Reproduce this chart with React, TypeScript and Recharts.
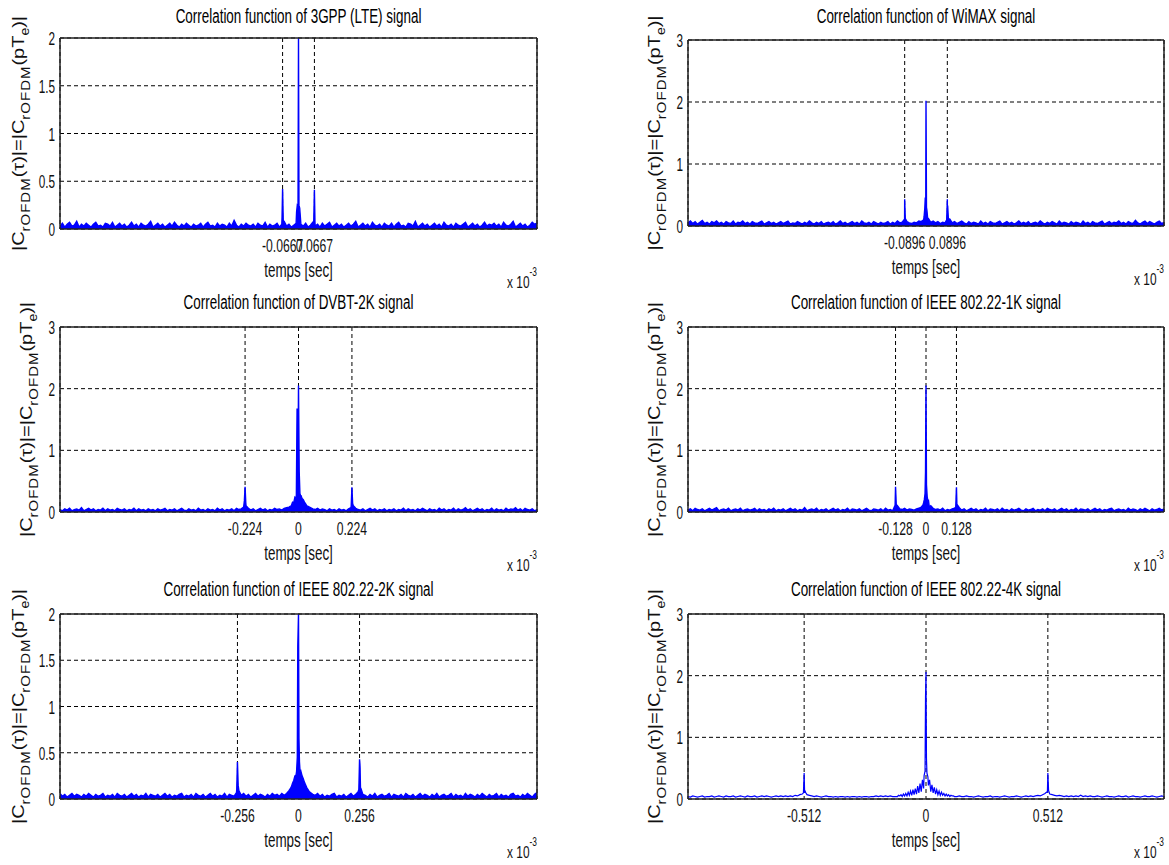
import React from "react";
import {
  ComposedChart,
  Area,
  Line,
  XAxis,
  YAxis,
  CartesianGrid,
  ReferenceLine,
} from "recharts";

// sample grid of the correlation (x 10^-3 s)
const GRID_START = -1;
const GRID_STEP = 0.01;

// ---- 3GPP (LTE) ----
const lteCoarse = [
  .03,.06,.02,.05,.07,.03,.04,.08,.02,.05,.03,.06,.04,.02,.05,.07,.03,.04,.02,.06,
  .05,.03,.07,.02,.04,.06,.03,.05,.02,.04,.07,.03,.05,.02,.06,.04,.03,.05,.08,.02,
  .04,.06,.03,.05,.02,.04,.06,.03,.07,.04,.02,.05,.03,.06,.04,.02,.05,.03,.04,.06,
  .02,.05,.07,.03,.04,.02,.06,.03,.05,.04,.02,.06,.03,.09,.04,.02,.05,.03,.06,.04,
  .03,.05,.02,.06,.04,.03,.07,.02,.05,.03,.04,.06,.02,.05,.08,.03,.05,.02,.04,.06,
  2.0,
  .05,.03,.06,.02,.04,.07,.03,.05,.02,.06,.03,.05,.07,.02,.04,.06,.03,.05,.02,.04,
  .06,.03,.05,.08,.02,.04,.06,.03,.05,.02,.07,.04,.03,.05,.02,.06,.04,.03,.06,.02,
  .05,.07,.03,.04,.02,.06,.05,.03,.08,.02,.04,.06,.03,.05,.02,.04,.06,.03,.05,.02,
  .07,.04,.03,.05,.02,.06,.04,.03,.05,.07,.02,.04,.06,.03,.05,.02,.04,.07,.03,.05,
  .04,.06,.03,.05,.02,.07,.04,.03,.05,.08,.02,.04,.06,.03,.05,.02,.04,.07,.05,.06,
];
const lteFineT = [-0.069, -0.0667, -0.064, -0.008, -0.005, -0.002, 0.002, 0.005, 0.008, 0.064, 0.0667, 0.069];
const lteFineV = [.12, .42, .09, .18, .25, .24, .25, .22, .12, .08, .41, .07];

// ---- WiMAX ----
const wimaxCoarse = [
  .05,.08,.04,.07,.03,.06,.09,.04,.06,.03,.07,.05,.08,.04,.06,.03,.07,.05,.04,.08,
  .03,.06,.05,.08,.04,.06,.03,.07,.05,.04,.06,.08,.03,.05,.07,.04,.06,.03,.05,.07,
  .04,.06,.08,.03,.05,.04,.07,.05,.03,.06,.04,.08,.05,.03,.06,.04,.07,.03,.05,.06,
  .04,.07,.03,.05,.08,.04,.06,.03,.05,.07,.04,.06,.03,.08,.05,.04,.06,.03,.07,.05,
  .03,.06,.04,.05,.07,.03,.06,.04,.08,.05,.06,.1,.07,.05,.04,.06,.05,.08,.07,.1,
  2.02,
  .12,.06,.08,.05,.07,.04,.06,.05,.09,.11,.05,.07,.04,.06,.08,.05,.03,.07,.04,.06,
  .05,.03,.08,.04,.06,.03,.07,.05,.04,.06,.08,.03,.05,.07,.04,.06,.03,.05,.08,.04,
  .06,.04,.07,.03,.05,.06,.04,.08,.05,.03,.06,.04,.07,.05,.03,.08,.04,.06,.05,.03,
  .07,.04,.06,.05,.03,.08,.04,.06,.03,.07,.05,.04,.06,.08,.03,.05,.07,.04,.06,.05,
  .08,.04,.06,.03,.07,.05,.04,.09,.05,.03,.06,.08,.04,.07,.05,.03,.06,.08,.04,.06,
];
const wimaxFineT = [-0.092, -0.0896, -0.087, -0.008, -0.005, -0.003, -0.001, 0.002, 0.004, 0.007, 0.087, 0.0896, 0.091, 0.094];
const wimaxFineV = [.1, .43, .12, .15, .29, .46, .28, .3, .25, .12, .1, .43, .33, .12];

// ---- DVBT-2K ----
const dvbtCoarse = [
  .04,.02,.05,.03,.06,.02,.04,.05,.03,.07,.02,.04,.06,.03,.05,.02,.04,.03,.06,.02,
  .05,.03,.04,.02,.06,.04,.03,.05,.02,.04,.03,.06,.02,.05,.03,.04,.02,.05,.03,.04,
  .02,.05,.03,.04,.06,.02,.04,.03,.05,.02,.04,.06,.03,.02,.05,.03,.04,.02,.06,.03,
  .04,.02,.05,.03,.04,.02,.06,.03,.05,.02,.04,.03,.05,.02,.06,.04,.05,.08,.1,.06,
  .03,.05,.02,.04,.06,.03,.05,.02,.04,.03,.06,.04,.05,.03,.06,.07,.08,.1,.15,.22,
  2.05,
  .25,.2,.13,.09,.07,.05,.04,.06,.03,.05,.04,.02,.05,.03,.04,.02,.05,.03,.04,.02,
  .05,.07,.1,.06,.04,.03,.05,.02,.04,.06,.03,.05,.02,.04,.03,.05,.02,.04,.03,.05,
  .02,.04,.03,.06,.02,.05,.03,.04,.02,.05,.03,.06,.04,.02,.05,.03,.04,.02,.06,.03,
  .05,.02,.04,.03,.06,.02,.05,.03,.04,.07,.03,.05,.02,.04,.06,.03,.05,.02,.04,.03,
  .06,.02,.05,.03,.04,.02,.06,.03,.05,.04,.07,.03,.05,.02,.06,.04,.03,.05,.02,.04,
];
const dvbtFineT = [-0.227, -0.224, -0.221, -0.035, -0.025, -0.015, -0.009, -0.006, -0.003, 0.003, 0.006, 0.01, 0.015, 0.025, 0.035, 0.221, 0.224, 0.227];
const dvbtFineV = [.18, .41, .15, .09, .16, .24, .28, 1.68, .3, .65, .3, .27, .22, .16, .1, .1, .4, .14];

// ---- IEEE 802.22-1K ----
const k1Coarse = [
  .03,.05,.02,.06,.04,.03,.05,.02,.04,.06,.03,.05,.07,.02,.04,.05,.03,.06,.02,.04,
  .05,.03,.06,.02,.04,.05,.03,.04,.06,.02,.05,.03,.04,.02,.05,.03,.06,.02,.04,.03,
  .05,.02,.04,.06,.03,.05,.02,.04,.03,.07,.02,.04,.05,.03,.06,.02,.04,.03,.05,.02,
  .04,.06,.03,.05,.02,.04,.03,.06,.02,.05,.04,.03,.05,.02,.04,.06,.03,.02,.05,.04,
  .03,.05,.02,.06,.03,.04,.02,.07,.1,.05,.04,.06,.03,.05,.04,.03,.05,.06,.08,.15,
  2.05,
  .2,.1,.06,.04,.05,.03,.06,.02,.04,.03,.05,.06,.09,.07,.03,.05,.02,.04,.06,.03,
  .05,.02,.04,.03,.06,.02,.05,.04,.03,.05,.02,.06,.03,.04,.02,.05,.03,.04,.06,.03,
  .02,.05,.03,.04,.06,.02,.04,.03,.05,.02,.06,.04,.03,.05,.02,.04,.06,.03,.05,.02,
  .04,.03,.06,.02,.05,.04,.03,.05,.02,.04,.06,.03,.05,.02,.04,.03,.05,.06,.02,.04,
  .05,.03,.04,.02,.06,.03,.05,.04,.02,.05,.03,.06,.04,.02,.05,.03,.04,.06,.03,.05,
];
const k1FineT = [-0.131, -0.128, -0.125, -0.012, -0.007, -0.004, -0.002, 0.002, 0.005, 0.009, 0.014, 0.125, 0.128, 0.131];
const k1FineV = [.1, .41, .12, .12, .2, .3, .65, .44, .25, .15, .08, .08, .4, .12];

// ---- IEEE 802.22-2K ----
const k2Coarse = [
  .06,.03,.05,.02,.04,.06,.03,.05,.04,.02,.05,.03,.06,.04,.02,.05,.03,.04,.06,.02,
  .04,.03,.05,.02,.06,.04,.03,.05,.02,.04,.06,.03,.05,.02,.04,.03,.06,.02,.05,.04,
  .03,.05,.02,.04,.06,.03,.05,.02,.04,.03,.05,.06,.02,.04,.03,.05,.02,.06,.04,.03,
  .05,.02,.04,.06,.03,.05,.02,.04,.03,.06,.02,.05,.04,.03,.07,.09,.04,.06,.03,.05,
  .02,.04,.06,.03,.05,.04,.02,.05,.03,.06,.04,.05,.03,.06,.04,.06,.09,.13,.2,.26,
  2.0,
  .3,.22,.15,.1,.07,.05,.04,.06,.03,.05,.02,.04,.03,.05,.06,.02,.04,.03,.05,.02,
  .04,.06,.03,.05,.08,.1,.05,.04,.02,.05,.03,.06,.02,.04,.05,.03,.04,.06,.02,.05,
  .04,.03,.05,.02,.06,.04,.03,.05,.02,.04,.06,.03,.05,.04,.02,.05,.03,.06,.02,.04,
  .05,.03,.04,.06,.02,.05,.03,.04,.02,.06,.03,.05,.04,.02,.05,.03,.06,.04,.02,.05,
  .03,.04,.06,.02,.05,.03,.04,.02,.05,.06,.03,.04,.02,.05,.03,.06,.04,.02,.05,.07,
];
const k2FineT = [-0.259, -0.256, -0.253, -0.035, -0.025, -0.015, -0.008, -0.005, -0.003, 0.002, 0.004, 0.007, 0.015, 0.025, 0.035, 0.045, 0.253, 0.256, 0.258, 0.261];
const k2FineV = [.1, .4, .15, .11, .17, .25, .3, .45, 1.65, .65, .4, .28, .25, .18, .12, .08, .1, .43, .35, .12];

// ---- IEEE 802.22-4K ----
const k4Coarse = [
  .04,.03,.05,.04,.03,.04,.05,.03,.04,.04,.05,.03,.04,.05,.04,.03,.05,.04,.04,.05,
  .03,.04,.05,.04,.03,.05,.04,.04,.05,.03,.04,.05,.04,.05,.04,.03,.04,.05,.04,.05,
  .04,.05,.04,.05,.04,.06,.05,.07,.08,.1,.07,.06,.05,.04,.05,.04,.03,.04,.05,.04,
  .04,.03,.04,.03,.04,.04,.03,.04,.03,.04,.04,.03,.04,.03,.04,.04,.03,.04,.04,.05,
  .04,.05,.04,.05,.04,.05,.04,.04,.04,.05,.04,.05,.05,.06,.06,.07,.08,.1,.12,.17,
  2.06,
  .22,.12,.1,.08,.07,.06,.06,.05,.05,.04,.05,.04,.04,.05,.04,.04,.05,.04,.04,.03,
  .04,.05,.04,.03,.04,.04,.05,.03,.04,.04,.03,.04,.05,.04,.03,.04,.04,.05,.04,.03,
  .04,.05,.04,.05,.04,.05,.06,.05,.07,.09,.1,.08,.07,.06,.05,.06,.05,.04,.05,.04,
  .05,.04,.05,.04,.06,.04,.05,.04,.05,.04,.04,.05,.04,.03,.04,.05,.04,.04,.03,.04,
  .05,.04,.04,.05,.03,.04,.05,.04,.04,.03,.04,.05,.04,.04,.05,.04,.03,.04,.05,.04,
];
const k4FineT = [-0.515, -0.512, -0.509, -0.505, -0.115, -0.105, -0.095, -0.085, -0.075, -0.065, -0.055, -0.045, -0.035, -0.025, -0.015, -0.008, -0.004, -0.002, 0.002, 0.004, 0.008, 0.015, 0.025, 0.035, 0.045, 0.055, 0.065, 0.075, 0.085, 0.095, 0.105, 0.115, 0.509, 0.512, 0.515];
const k4FineV = [.1, .42, .14, .1, .06, .07, .08, .09, .11, .13, .15, .17, .21, .25, .31, .38, .45, 1.65, .65, .42, .36, .31, .23, .19, .15, .13, .11, .09, .08, .07, .06, .05, .12, .42, .14];

// ticks
const lteTicks = [-0.0667, 0.0667];
const wimaxTicks = [-0.0896, 0.0896];
const dvbtTicks = [-0.224, 0, 0.224];
const k1Ticks = [-0.128, 0, 0.128];
const k2Ticks = [-0.256, 0, 0.256];
const k4Ticks = [-0.512, 0, 0.512];
const yTicksHalf = [0, 0.5, 1, 1.5, 2];
const yTicksUnit = [0, 1, 2, 3];

function buildSeries(coarse: number[], fineT: number[], fineV: number[]) {
  const pts = coarse.map((v, i) => ({
    t: Math.round((GRID_START + i * GRID_STEP) * 10000) / 10000,
    v,
  }));
  fineT.forEach((t, i) => pts.push({ t, v: fineV[i] }));
  pts.sort((a, b) => a.t - b.t);
  return pts;
}

const FONT = "'Liberation Sans', Arial, Helvetica, sans-serif";
const BLUE = "#0000ff";
const BOX = "#222";

function SText({ x, y, size, anchor, sx = 0.64, fill = "#111", children }: any) {
  return (
    <g transform={`translate(${x},${y}) scale(${sx},1)`}>
      <text x={0} y={0} fontSize={size} textAnchor={anchor} fontFamily={FONT} fill={fill}>
        {children}
      </text>
    </g>
  );
}

interface Box { x0: number; y0: number; x1: number; y1: number }

const M_TOP = 40;
const M_LEFT = 60;

function Panel({ box, data, xTicks, yTicks, ymax, asLine }: any) {
  const b = box as Box;
  const plotW = b.x1 - b.x0;
  const plotH = b.y1 - b.y0;
  const W = plotW + M_LEFT + 10;
  const H = plotH + M_TOP + 70;

  const xTick = (props: any) => (
    <SText x={props.x} y={M_TOP + plotH + 23} size={19} anchor="middle" sx={0.64}>
      {String(props.payload.value)}
    </SText>
  );
  const yTick = (props: any) => (
    <SText x={M_LEFT - 5} y={props.y + 7} size={19} anchor="end" sx={0.62}>
      {String(props.payload.value)}
    </SText>
  );

  return (
    <div style={{ position: "absolute", left: b.x0 - M_LEFT, top: b.y0 - M_TOP }}>
      <ComposedChart
        width={W}
        height={H}
        data={data}
        margin={{ top: M_TOP, right: 10, bottom: 40, left: 20 }}
      >
        <CartesianGrid stroke="#000" strokeDasharray="4 3" strokeWidth={1} />
        <XAxis
          type="number"
          dataKey="t"
          domain={[-1, 1]}
          ticks={xTicks}
          interval={0}
          tick={xTick}
          tickLine={false}
          axisLine={{ stroke: BOX, strokeWidth: 1.5 }}
          height={30}
          allowDataOverflow
        />
        <YAxis
          type="number"
          domain={[0, ymax]}
          ticks={yTicks}
          interval={0}
          tick={yTick}
          tickLine={false}
          axisLine={{ stroke: BOX, strokeWidth: 1.5 }}
          width={40}
          allowDataOverflow
        />
        {asLine ? (
          <Line
            type="linear"
            dataKey="v"
            stroke={BLUE}
            strokeWidth={1.2}
            dot={false}
            isAnimationActive={false}
          />
        ) : (
          <Area
            type="linear"
            dataKey="v"
            stroke={BLUE}
            strokeWidth={1.4}
            fill={BLUE}
            fillOpacity={1}
            dot={false}
            isAnimationActive={false}
          />
        )}
        <ReferenceLine y={ymax} stroke={BOX} strokeWidth={1.5} />
        <ReferenceLine x={1} stroke={BOX} strokeWidth={1.5} />
      </ComposedChart>
    </div>
  );
}

function YLabel({ x, cy }: { x: number; cy: number }) {
  return (
    <g transform={`translate(${x},${cy}) scale(0.86,1) rotate(-90)`}>
      <text x={0} y={0} textAnchor="middle" fontSize={20} fontFamily={FONT} fill="#111">
        <tspan>|C</tspan>
        <tspan fontSize={15} dy={7} letterSpacing={1}>rOFDM</tspan>
        <tspan dy={-7}>(τ)|=|C</tspan>
        <tspan fontSize={15} dy={7} letterSpacing={1}>rOFDM</tspan>
        <tspan dy={-7}>(pT</tspan>
        <tspan fontSize={14} dy={6}>e</tspan>
        <tspan dy={-6}>)|</tspan>
      </text>
    </g>
  );
}

function Decor({ box, title, titleY, labelGap }: any) {
  const b = box as Box;
  const cx = (b.x0 + b.x1) / 2;
  return (
    <g>
      <SText x={cx} y={titleY} size={21} anchor="middle" sx={0.64} fill="#000">
        {title}
      </SText>
      <SText x={cx} y={b.y1 + 48} size={21} anchor="middle" sx={0.64}>
        temps [sec]
      </SText>
      <g transform={`translate(${b.x1},${b.y1 + 59}) scale(0.7,1)`}>
        <text x={0} y={0} fontSize={17} textAnchor="end" fontFamily={FONT} fill="#111">
          x 10
          <tspan fontSize={12} dy={-12}>-3</tspan>
        </text>
      </g>
      <YLabel x={b.x0 - labelGap} cy={(b.y0 + b.y1) / 2} />
    </g>
  );
}

const boxLte: Box = { x0: 60, y0: 38, x1: 537, y1: 229 };
const boxWimax: Box = { x0: 688, y0: 40, x1: 1164, y1: 226 };
const boxDvbt: Box = { x0: 60, y0: 327, x1: 537, y1: 512 };
const boxK1: Box = { x0: 688, y0: 327, x1: 1164, y1: 512 };
const boxK2: Box = { x0: 60, y0: 614, x1: 537, y1: 799 };
const boxK4: Box = { x0: 688, y0: 614, x1: 1164, y1: 799 };

export default function App() {
  const lteData = buildSeries(lteCoarse, lteFineT, lteFineV);
  const wimaxData = buildSeries(wimaxCoarse, wimaxFineT, wimaxFineV);
  const dvbtData = buildSeries(dvbtCoarse, dvbtFineT, dvbtFineV);
  const k1Data = buildSeries(k1Coarse, k1FineT, k1FineV);
  const k2Data = buildSeries(k2Coarse, k2FineT, k2FineV);
  const k4Data = buildSeries(k4Coarse, k4FineT, k4FineV);

  return (
    <div
      style={{
        position: "absolute",
        left: 0,
        top: 0,
        width: 1169,
        height: 865,
        background: "#fff",
        overflow: "hidden",
      }}
    >
      <Panel box={boxLte} data={lteData} xTicks={lteTicks} yTicks={yTicksHalf} ymax={2} />
      <Panel box={boxWimax} data={wimaxData} xTicks={wimaxTicks} yTicks={yTicksUnit} ymax={3} />
      <Panel box={boxDvbt} data={dvbtData} xTicks={dvbtTicks} yTicks={yTicksUnit} ymax={3} />
      <Panel box={boxK1} data={k1Data} xTicks={k1Ticks} yTicks={yTicksUnit} ymax={3} />
      <Panel box={boxK2} data={k2Data} xTicks={k2Ticks} yTicks={yTicksHalf} ymax={2} />
      <Panel box={boxK4} data={k4Data} xTicks={k4Ticks} yTicks={yTicksUnit} ymax={3} asLine />

      <svg
        width={1169}
        height={865}
        style={{ position: "absolute", left: 0, top: 0, pointerEvents: "none" }}
      >
        <Decor box={boxLte} title="Correlation function of 3GPP (LTE) signal" titleY={23} labelGap={36} />
        <Decor box={boxWimax} title="Correlation function of WiMAX signal" titleY={23} labelGap={28} />
        <Decor box={boxDvbt} title="Correlation function of DVBT-2K signal" titleY={309} labelGap={28} />
        <Decor box={boxK1} title="Correlation function of IEEE 802.22-1K signal" titleY={309} labelGap={28} />
        <Decor box={boxK2} title="Correlation function of IEEE 802.22-2K signal" titleY={596} labelGap={36} />
        <Decor box={boxK4} title="Correlation function of IEEE 802.22-4K signal" titleY={596} labelGap={28} />
      </svg>
    </div>
  );
}
